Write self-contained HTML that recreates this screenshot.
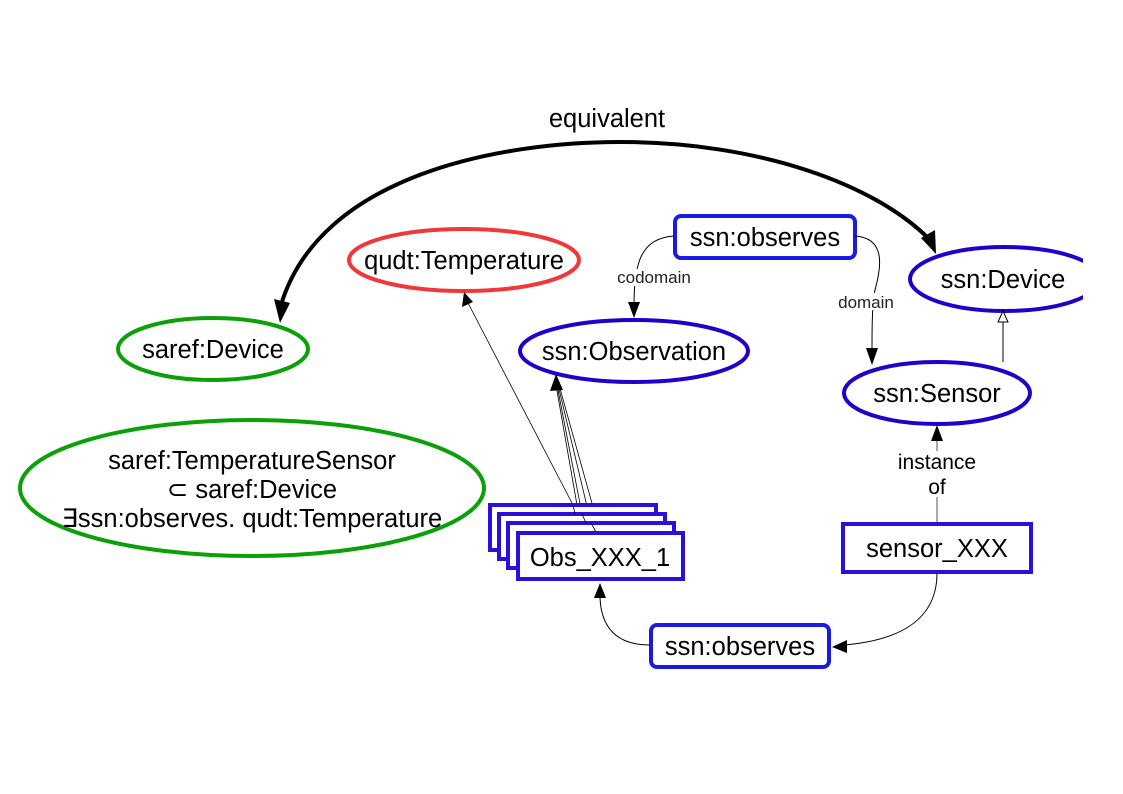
<!DOCTYPE html>
<html><head><meta charset="utf-8"><style>
html,body{margin:0;padding:0;background:#fff;}
svg{display:block;font-family:"Liberation Sans",sans-serif;}
</style></head><body>
<svg width="1123" height="794" viewBox="0 0 1123 794" xmlns="http://www.w3.org/2000/svg">
<rect width="1123" height="794" fill="#fff"/>
<!-- equivalent arc -->
<path d="M 281,305 C 320,175 500,142 620,142 C 760,142 875,185 928,238" fill="none" stroke="#000" stroke-width="4"/>
<polygon points="280,323 274,299 290,303" fill="#000"/>
<polygon points="936,254 921,238 935,230" fill="#000"/>
<text x="607" y="127" font-size="25.5" text-anchor="middle">equivalent</text>

<!-- ellipses -->
<ellipse cx="464" cy="260" rx="115" ry="31" fill="none" stroke="#f03838" stroke-width="4"/>
<text x="464" y="269" font-size="25.5" text-anchor="middle">qudt:Temperature</text>
<ellipse cx="213" cy="349" rx="95" ry="31" fill="none" stroke="#0aa00a" stroke-width="4"/>
<text x="213" y="358" font-size="25.5" text-anchor="middle">saref:Device</text>
<ellipse cx="634" cy="351" rx="114" ry="31" fill="none" stroke="#2200cc" stroke-width="4"/>
<text x="634" y="360" font-size="25.5" text-anchor="middle">ssn:Observation</text>
<ellipse cx="1005" cy="279" rx="95" ry="32" fill="none" stroke="#2200cc" stroke-width="4"/>
<rect x="1083" y="240" width="40" height="80" fill="#fff"/>
<text x="1003" y="288" font-size="25.5" text-anchor="middle">ssn:Device</text>
<ellipse cx="937" cy="393" rx="93" ry="31" fill="none" stroke="#2200cc" stroke-width="4"/>
<text x="937" y="402" font-size="25.5" text-anchor="middle">ssn:Sensor</text>
<ellipse cx="252" cy="488" rx="232" ry="68" fill="none" stroke="#0aa00a" stroke-width="4"/>
<text x="252" y="469" font-size="25.5" text-anchor="middle">saref:TemperatureSensor</text>
<text x="252" y="498" font-size="25.5" text-anchor="middle">⊂ saref:Device</text>
<text x="252" y="527" font-size="25.5" text-anchor="middle">∃ssn:observes. qudt:Temperature</text>

<!-- top ssn:observes -->
<rect x="675" y="216" width="180" height="42" rx="6" fill="#fff" stroke="#1a1ae6" stroke-width="4"/>
<text x="765" y="246" font-size="25.5" text-anchor="middle">ssn:observes</text>
<path d="M 674,236 C 640,238 634,265 634,305" fill="none" stroke="#000" stroke-width="1"/>
<polygon points="634,318 628,302 640,302" fill="#000"/>
<rect x="616" y="269" width="76" height="17" fill="#fff"/>
<text x="654" y="283" font-size="17" fill="#222" text-anchor="middle">codomain</text>
<path d="M 855,236 C 885,238 882,265 875,290 C 872,305 872,330 872,350" fill="none" stroke="#000" stroke-width="1"/>
<polygon points="872,365 866,348 878,348" fill="#000"/>
<rect x="836" y="293" width="60" height="17" fill="#fff"/>
<text x="866" y="308" font-size="17" fill="#222" text-anchor="middle">domain</text>

<!-- subclass -->
<line x1="1003" y1="362" x2="1003" y2="320" stroke="#000" stroke-width="1"/>
<polygon points="1003,311 998,322 1008,322" fill="#fff" stroke="#000" stroke-width="1"/>

<!-- instance of -->
<line x1="937" y1="523" x2="937" y2="438" stroke="#555" stroke-width="1"/>
<polygon points="937,425 931,441 943,441" fill="#000"/>
<rect x="895" y="451" width="84" height="46" fill="#fff"/>
<text x="937" y="469" font-size="21" text-anchor="middle">instance</text>
<text x="937" y="494" font-size="21" text-anchor="middle">of</text>

<!-- sensor_XXX -->
<rect x="843" y="524" width="188" height="48" fill="#fff" stroke="#2a10dd" stroke-width="4"/>
<text x="937" y="557" font-size="25.5" text-anchor="middle">sensor_XXX</text>
<path d="M 937,573 C 937,620 900,640 845,645" fill="none" stroke="#000" stroke-width="1"/>
<polygon points="832,647 847,640 847,653" fill="#000"/>

<!-- bottom ssn:observes -->
<rect x="651" y="625" width="178" height="42" rx="6" fill="#fff" stroke="#1a1ae6" stroke-width="4"/>
<text x="740" y="655" font-size="25.5" text-anchor="middle">ssn:observes</text>
<path d="M 650,645 C 610,645 601,620 600,598" fill="none" stroke="#000" stroke-width="1"/>
<polygon points="600,583 594,598 606,598" fill="#000"/>

<!-- obs lines -->
<line x1="573" y1="505" x2="468" y2="303" stroke="#000" stroke-width="0.8"/>
<polygon points="464,292 462,307 473,302" fill="#000"/>
<line x1="582" y1="514" x2="557" y2="385" stroke="#000" stroke-width="0.8"/>
<line x1="591" y1="523" x2="558" y2="385" stroke="#000" stroke-width="0.8"/>
<line x1="600" y1="532" x2="559" y2="385" stroke="#000" stroke-width="0.8"/>
<line x1="577" y1="505" x2="556" y2="385" stroke="#000" stroke-width="0.8"/>
<polygon points="556,374 550,391 563,390" fill="#000"/>

<!-- obs stacked boxes -->
<rect x="490" y="505" width="166" height="45" fill="#fff" stroke="#2a10dd" stroke-width="4"/>
<rect x="499" y="514" width="166" height="45" fill="#fff" stroke="#2a10dd" stroke-width="4"/>
<rect x="508" y="523" width="166" height="45" fill="#fff" stroke="#2a10dd" stroke-width="4"/>
<line x1="573" y1="505" x2="575" y2="514" stroke="#000" stroke-width="0.8"/>
<line x1="582" y1="514" x2="586" y2="523" stroke="#000" stroke-width="0.8"/>
<line x1="591" y1="523" x2="596" y2="532" stroke="#000" stroke-width="0.8"/>
<rect x="518" y="533" width="165" height="46" fill="#fff" stroke="#2a10dd" stroke-width="4"/>
<text x="600" y="566" font-size="25.5" text-anchor="middle">Obs_XXX_1</text>
</svg>
</body></html>
